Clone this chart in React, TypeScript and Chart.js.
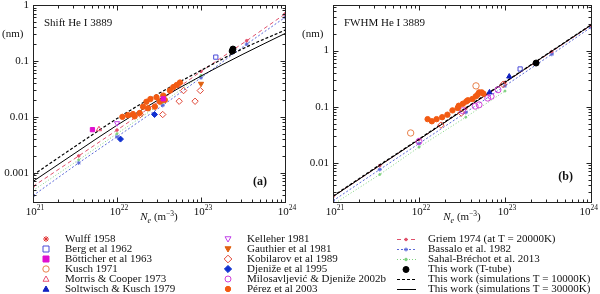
import React, { useEffect, useRef } from 'react';
import { Chart, registerables } from 'chart.js';
Chart.register(...registerables);

// ---------- axes ----------
const X_MIN = 1e21;
const X_MAX = 1e24;
const X_TICK_EXPONENTS = ['21', '22', '23', '24'];
const SHIFT_Y_MIN = 3e-4;
const SHIFT_Y_MAX = 1;
const SHIFT_Y_TICKS = [0.001, 0.01, 0.1, 1];
const SHIFT_Y_LABELS = ['0.001', '0.01', '0.1', '1'];
const FWHM_Y_MIN = 0.002;
const FWHM_Y_MAX = 6.5;
const FWHM_Y_TICKS = [0.01, 0.1, 1];
const FWHM_Y_LABELS = ['0.01', '0.1', '1'];

// ---------- theory curves ----------
const THEORY_N = [1e21, 3.5e21, 1e22, 3.5e22, 1e23, 3.5e23, 1e24];
const griemShift = [0.00057, 0.002, 0.0058, 0.021, 0.065, 0.23, 0.69];
const bassaloShift = [0.00039, 0.0015, 0.0044, 0.016, 0.05, 0.2, 0.6];
const griemFwhm = [0.0025, 0.0089, 0.026, 0.093, 0.27, 0.96, 2.8];
const bassaloFwhm = [0.0021, 0.0076, 0.022, 0.079, 0.235, 0.86, 2.6];
const SAHAL_N = [1e21, 3.5e21, 1e22, 3.5e22, 1e23];
const sahalShift = [0.00048, 0.0017, 0.005, 0.018, 0.055];
const sahalFwhm = [0.0018, 0.0062, 0.019, 0.065, 0.19];
const SIM_N = [1e21, 3.16e21, 1e22, 3.16e22, 1e23, 3.16e23, 1e24];
const sim10kShift = [0.00091, 0.00295, 0.0093, 0.0263, 0.0676, 0.166, 0.355];
const sim30kShift = [0.0007, 0.00224, 0.00708, 0.0204, 0.0537, 0.132, 0.309];
const sim10kFwhm = [0.00255, 0.0083, 0.0265, 0.086, 0.276, 0.89, 2.87];
const sim30kFwhm = [0.0025, 0.0081, 0.026, 0.084, 0.272, 0.88, 2.85];

// ---------- measurements: shift (panel a) ----------
const bergShiftN = [1.5e23];
const bergShift = [0.117];
const botticherShiftN = [5.1e21, 3.55e22];
const botticherShift = [0.0059, 0.021];
const morrisShiftN = [6.1e21];
const morrisShift = [0.006];
const kelleherShiftN = [1.0e22];
const kelleherShift = [0.0077];
const gauthierShiftN = [1e23];
const gauthierShift = [0.039];
const kobilarovShiftN = [1.9e22, 3.5e22, 5.5e22, 8.5e22, 6.2e22, 9.8e22];
const kobilarovShift = [0.011, 0.011, 0.019, 0.019, 0.0295, 0.0295];
const djenizeShiftN = [1.1e22, 2.8e22];
const djenizeShift = [0.004, 0.011];
const perezShiftN = [1.16e22, 1.35e22, 1.55e22, 1.62e22, 1.86e22, 2.04e22, 2.24e22, 2.5e22, 2.95e22, 3.55e22, 4.27e22, 4.68e22, 5.13e22, 5.62e22, 2.34e22, 2.82e22, 3.24e22, 3.7e22];
const perezShift = [0.01, 0.0107, 0.0112, 0.0102, 0.0117, 0.0152, 0.0186, 0.0208, 0.0224, 0.024, 0.0295, 0.034, 0.037, 0.041, 0.0142, 0.0152, 0.0187, 0.02];
const ttubeShiftN = [2.35e23, 2.4e23];
const ttubeShift = [0.15, 0.163];

// ---------- measurements: FWHM (panel b) ----------
const bergFwhmN = [1.5e23];
const bergFwhm = [0.47];
const kuschFwhmN = [8e21, 4.6e22];
const kuschFwhm = [0.034, 0.235];
const soltwischFwhmN = [6.6e22, 1.12e23];
const soltwischFwhm = [0.18, 0.345];
const kobilarovFwhmN = [1.8e22, 3.1e22, 9.5e22];
const kobilarovFwhm = [0.047, 0.077, 0.25];
const miloFwhmN = [1e22, 3.2e22, 4.5e22, 5e22, 6.3e22, 6.9e22, 8.3e22];
const miloFwhm = [0.024, 0.085, 0.102, 0.108, 0.142, 0.153, 0.2];
const perezFwhmN = [1.26e22, 1.41e22, 1.6e22, 1.86e22, 2.14e22, 2.45e22, 2.82e22, 2.9e22, 3.24e22, 3.55e22, 3.7e22, 4.17e22, 4.57e22, 4.8e22, 5.0e22, 5.37e22, 5.62e22];
const perezFwhm = [0.06, 0.055, 0.06, 0.065, 0.072, 0.086, 0.095, 0.104, 0.113, 0.124, 0.13, 0.137, 0.153, 0.163, 0.18, 0.18, 0.17];
const ttubeFwhmN = [2.3e23];
const ttubeFwhm = [0.6];

// ---------- legend labels ----------
const LEGEND_COL1 = ['Wulff 1958', 'Berg et al 1962', 'Bötticher et al 1963', 'Kusch 1971', 'Morris & Cooper 1973', 'Soltwisch & Kusch 1979'];
const LEGEND_COL2 = ['Kelleher 1981', 'Gauthier et al 1981', 'Kobilarov et al 1989', 'Djeniže et al 1995', 'Milosavljević & Djeniže 2002b', 'Pérez et al 2003'];
const LEGEND_COL3 = ['Griem 1974 (at T = 20000K)', 'Bassalo et al. 1982', 'Sahal-Bréchot et al. 2013', 'This work (T-tube)', 'This work (simulations T = 10000K)', 'This work (simulations T = 30000K)'];

// ---------- styles ----------
type MStyle = { style: string; color: string; filled: boolean; r: number };
const ST: Record<string, MStyle> = {
  wulff: { style: 'star', color: '#e03030', filled: false, r: 3 },
  berg: { style: 'rect', color: '#4a4ad8', filled: false, r: 3 },
  botticher: { style: 'rect', color: '#e010d0', filled: true, r: 3 },
  kusch: { style: 'circle', color: '#e8804a', filled: false, r: 3.2 },
  morris: { style: 'triangle', color: '#e85070', filled: false, r: 3 },
  soltwisch: { style: 'triangle', color: '#1020c0', filled: true, r: 3 },
  kelleher: { style: 'tridown', color: '#c040e8', filled: false, r: 3 },
  gauthier: { style: 'tridown', color: '#e06010', filled: true, r: 3 },
  kobilarov: { style: 'diamond', color: '#e04838', filled: false, r: 3.2 },
  djenize: { style: 'diamond', color: '#1030d0', filled: true, r: 3 },
  milo: { style: 'circle', color: '#d040d8', filled: false, r: 3 },
  perez: { style: 'circle', color: '#f25a12', filled: true, r: 2.7 },
  ttube: { style: 'circle', color: '#000000', filled: true, r: 3 },
};
const COL1_KEYS = ['wulff', 'berg', 'botticher', 'kusch', 'morris', 'soltwisch'];
const COL2_KEYS = ['kelleher', 'gauthier', 'kobilarov', 'djenize', 'milo', 'perez'];

const GRIEM_C = '#e0506a';
const BASSALO_C = '#5a68d8';
const SAHAL_C = '#7cd07c';
const FONT = '"Liberation Serif", "DejaVu Serif", serif';

const zip = (xs: number[], ys: number[]) => xs.map((x, i) => ({ x, y: ys[i] }));

function scatterDs(key: string, xs: number[], ys: number[]) {
  const s = ST[key];
  const ps = s.style === 'diamond' ? 'rectRot' : s.style === 'tridown' ? 'triangle' : s.style;
  return {
    label: key,
    data: zip(xs, ys),
    showLine: false,
    pointStyle: ps,
    rotation: s.style === 'tridown' ? 180 : 0,
    pointRadius: s.r,
    pointBorderWidth: 1,
    pointBorderColor: s.color,
    pointBackgroundColor: s.filled ? s.color : 'rgba(255,255,255,0)',
  };
}

function lineDs(label: string, xs: number[], ys: number[], color: string, dash: number[], ptR: number, ptStyle: string, width = 1, smooth = false) {
  return {
    label,
    data: zip(xs, ys),
    showLine: true,
    borderColor: color,
    borderWidth: width,
    borderDash: dash,
    pointRadius: ptR,
    pointStyle: ptStyle,
    pointBorderColor: color,
    pointBackgroundColor: color,
    pointBorderWidth: 1,
    fill: false,
    tension: 0,
    cubicInterpolationMode: smooth ? 'monotone' : 'default',
  };
}

function drawMarker(ctx: CanvasRenderingContext2D, s: MStyle, x: number, y: number) {
  const r = s.r;
  ctx.save();
  ctx.strokeStyle = s.color;
  ctx.fillStyle = s.color;
  ctx.lineWidth = 1;
  ctx.setLineDash([]);
  ctx.beginPath();
  if (s.style === 'circle') ctx.arc(x, y, r, 0, Math.PI * 2);
  else if (s.style === 'rect') ctx.rect(x - r, y - r, 2 * r, 2 * r);
  else if (s.style === 'triangle') { ctx.moveTo(x, y - r); ctx.lineTo(x + r, y + r * 0.75); ctx.lineTo(x - r, y + r * 0.75); ctx.closePath(); }
  else if (s.style === 'tridown') { ctx.moveTo(x, y + r); ctx.lineTo(x + r, y - r * 0.75); ctx.lineTo(x - r, y - r * 0.75); ctx.closePath(); }
  else if (s.style === 'diamond') { ctx.moveTo(x, y - r * 1.2); ctx.lineTo(x + r * 1.2, y); ctx.lineTo(x, y + r * 1.2); ctx.lineTo(x - r * 1.2, y); ctx.closePath(); }
  else if (s.style === 'star') {
    for (let k = 0; k < 4; k++) {
      const a = (k * Math.PI) / 4;
      ctx.moveTo(x - Math.cos(a) * r, y - Math.sin(a) * r);
      ctx.lineTo(x + Math.cos(a) * r, y + Math.sin(a) * r);
    }
  }
  if (s.filled && s.style !== 'star') ctx.fill();
  ctx.stroke();
  ctx.restore();
}

function drawPow(ctx: CanvasRenderingContext2D, cx: number, y: number, exp: string) {
  ctx.font = `11px ${FONT}`;
  const w1 = ctx.measureText('10').width;
  ctx.font = `7.5px ${FONT}`;
  const w2 = ctx.measureText(exp).width;
  let x0 = cx - (w1 + w2) / 2;
  if (x0 + w1 + w2 > 598) x0 = 598 - w1 - w2;
  ctx.textAlign = 'left';
  ctx.textBaseline = 'alphabetic';
  ctx.font = `11px ${FONT}`;
  ctx.fillText('10', x0, y);
  ctx.font = `7.5px ${FONT}`;
  ctx.fillText(exp, x0 + w1, y - 5);
}

function drawAxisTitle(ctx: CanvasRenderingContext2D, cx: number, y: number) {
  const parts = [
    { t: 'N', f: `italic 11px ${FONT}`, dy: 0 },
    { t: 'e', f: `italic 8px ${FONT}`, dy: 2.5 },
    { t: ' (m', f: `11px ${FONT}`, dy: 0 },
    { t: '−3', f: `7.5px ${FONT}`, dy: -4.5 },
    { t: ')', f: `11px ${FONT}`, dy: 0 },
  ];
  let total = 0;
  for (const p of parts) { ctx.font = p.f; total += ctx.measureText(p.t).width; }
  let x = cx - total / 2;
  ctx.textAlign = 'left';
  ctx.textBaseline = 'alphabetic';
  for (const p of parts) {
    ctx.font = p.f;
    ctx.fillText(p.t, x, y + p.dy);
    x += ctx.measureText(p.t).width;
  }
}

const decoPlugin = {
  id: 'deco',
  afterDraw(chart: any, _args: any, opts: any) {
    const ctx: CanvasRenderingContext2D = chart.ctx;
    const a = chart.chartArea;
    const xs = chart.scales.x;
    const ys = chart.scales.y;
    ctx.save();
    ctx.strokeStyle = '#222';
    ctx.fillStyle = '#111';
    ctx.lineWidth = 1;
    ctx.setLineDash([]);
    const L = Math.round(a.left) + 0.5, R = Math.round(a.right) + 0.5;
    const T = Math.round(a.top) + 0.5, B = Math.round(a.bottom) + 0.5;
    ctx.strokeRect(L, T, R - L, B - T);
    ctx.beginPath();
    for (let d = 21; d <= 24; d++) {
      for (let m = 1; m <= 9; m++) {
        const v = m * Math.pow(10, d);
        if (v < xs.min * 0.999 || v > xs.max * 1.001) continue;
        const px = Math.round(xs.getPixelForValue(v)) + 0.5;
        const len = m === 1 ? 5 : 3;
        ctx.moveTo(px, B); ctx.lineTo(px, B - len);
        ctx.moveTo(px, T); ctx.lineTo(px, T + len);
      }
    }
    const d0 = Math.floor(Math.log10(ys.min));
    const d1 = Math.ceil(Math.log10(ys.max));
    for (let d = d0; d <= d1; d++) {
      for (let m = 1; m <= 9; m++) {
        const v = m * Math.pow(10, d);
        if (v < ys.min * 0.999 || v > ys.max * 1.001) continue;
        const py = Math.round(ys.getPixelForValue(v)) + 0.5;
        const len = m === 1 ? 5 : 3;
        ctx.moveTo(L, py); ctx.lineTo(L + len, py);
        ctx.moveTo(R, py); ctx.lineTo(R - len, py);
      }
    }
    ctx.stroke();

    X_TICK_EXPONENTS.forEach((e) => {
      const px = xs.getPixelForValue(Math.pow(10, Number(e)));
      drawPow(ctx, px + 2, a.bottom + 13, e);
    });
    ctx.font = `11px ${FONT}`;
    ctx.textAlign = 'right';
    ctx.textBaseline = 'middle';
    opts.yTicks.forEach((v: number, i: number) => {
      ctx.fillText(opts.yLabels[i], a.left - 4, ys.getPixelForValue(v));
    });
    ctx.textAlign = 'left';
    ctx.fillText('(nm)', a.left - 31, 34);
    ctx.fillText(opts.title, a.left + 11, a.top + 18);
    ctx.font = `bold 12px ${FONT}`;
    ctx.textAlign = 'right';
    ctx.fillText(opts.tag, a.right - 18, a.bottom - opts.tagUp);
    drawAxisTitle(ctx, (a.left + a.right) / 2, a.bottom + 18);

    if (opts.legend) {
      const y0 = 239, dy = 10;
      ctx.font = `11px ${FONT}`;
      ctx.textAlign = 'left';
      ctx.textBaseline = 'middle';
      ctx.fillStyle = '#111';
      LEGEND_COL1.forEach((t, i) => {
        drawMarker(ctx, ST[COL1_KEYS[i]], 46, y0 + i * dy);
        ctx.fillStyle = '#111';
        ctx.fillText(t, 65, y0 + i * dy + 0.5);
      });
      LEGEND_COL2.forEach((t, i) => {
        drawMarker(ctx, ST[COL2_KEYS[i]], 228, y0 + i * dy);
        ctx.fillStyle = '#111';
        ctx.fillText(t, 247, y0 + i * dy + 0.5);
      });
      const lineSpecs = [
        { c: GRIEM_C, dash: [4, 3], mark: 'dot' },
        { c: BASSALO_C, dash: [2, 2], mark: 'star' },
        { c: SAHAL_C, dash: [1, 2], mark: 'dot' },
        { c: '#000', dash: null, mark: 'ttube' },
        { c: '#000', dash: [3, 2], mark: null },
        { c: '#000', dash: [], mark: null },
      ];
      LEGEND_COL3.forEach((t, i) => {
        const y = Math.round(y0 + i * dy) + 0.5;
        const sp = lineSpecs[i];
        ctx.save();
        if (sp.dash) {
          ctx.strokeStyle = sp.c;
          ctx.lineWidth = 1;
          ctx.setLineDash(sp.dash);
          ctx.beginPath();
          ctx.moveTo(397, y); ctx.lineTo(416, y);
          ctx.stroke();
        }
        ctx.restore();
        if (sp.mark === 'dot') drawMarker(ctx, { style: 'circle', color: sp.c, filled: true, r: 1.3 }, 406, y);
        if (sp.mark === 'star') drawMarker(ctx, { style: 'star', color: sp.c, filled: false, r: 2 }, 406, y);
        if (sp.mark === 'ttube') drawMarker(ctx, ST.ttube, 406, y);
        ctx.fillStyle = '#111';
        ctx.font = `11px ${FONT}`;
        ctx.textAlign = 'left';
        ctx.textBaseline = 'middle';
        ctx.fillText(t, 428, y);
      });
    }
    ctx.restore();
  },
};

function shiftConfig(): any {
  return {
    type: 'scatter',
    data: {
      datasets: [
        scatterDs('ttube', ttubeShiftN, ttubeShift),
        scatterDs('botticher', botticherShiftN, botticherShift),
        scatterDs('perez', perezShiftN, perezShift),
        scatterDs('berg', bergShiftN, bergShift),
        scatterDs('morris', morrisShiftN, morrisShift),
        scatterDs('kelleher', kelleherShiftN, kelleherShift),
        scatterDs('gauthier', gauthierShiftN, gauthierShift),
        scatterDs('kobilarov', kobilarovShiftN, kobilarovShift),
        scatterDs('djenize', djenizeShiftN, djenizeShift),
        lineDs('sim10k', SIM_N, sim10kShift, '#000', [3, 2], 0, 'circle', 1.2, true),
        lineDs('sim30k', SIM_N, sim30kShift, '#000', [], 0, 'circle', 1, true),
        lineDs('griem', THEORY_N, griemShift, GRIEM_C, [4, 3], 1.3, 'circle'),
        lineDs('sahal', SAHAL_N, sahalShift, SAHAL_C, [1, 2], 1, 'circle'),
        lineDs('bassalo', THEORY_N, bassaloShift, BASSALO_C, [2, 2], 2, 'star'),
      ],
    },
    options: {
      animation: false,
      responsive: false,
      events: [],
      layout: { padding: { left: 33, right: 315, top: 5, bottom: 92 } },
      scales: {
        x: { type: 'logarithmic', min: X_MIN, max: X_MAX, display: false },
        y: { type: 'logarithmic', min: SHIFT_Y_MIN, max: SHIFT_Y_MAX, display: false },
      },
      plugins: {
        legend: { display: false },
        tooltip: { enabled: false },
        deco: { yTicks: SHIFT_Y_TICKS, yLabels: SHIFT_Y_LABELS, title: 'Shift He I 3889', tag: '(a)', tagUp: 20, legend: true },
      },
    },
    plugins: [decoPlugin],
  };
}

function fwhmConfig(): any {
  return {
    type: 'scatter',
    data: {
      datasets: [
        scatterDs('ttube', ttubeFwhmN, ttubeFwhm),
        scatterDs('berg', bergFwhmN, bergFwhm),
        scatterDs('soltwisch', soltwischFwhmN, soltwischFwhm),
        scatterDs('kusch', kuschFwhmN, kuschFwhm),
        scatterDs('perez', perezFwhmN, perezFwhm),
        scatterDs('milo', miloFwhmN, miloFwhm),
        scatterDs('kobilarov', kobilarovFwhmN, kobilarovFwhm),
        lineDs('sim10k', SIM_N, sim10kFwhm, '#000', [3, 2], 0, 'circle', 1.2),
        lineDs('sim30k', SIM_N, sim30kFwhm, '#000', [], 0, 'circle', 1),
        lineDs('griem', THEORY_N, griemFwhm, GRIEM_C, [4, 3], 1.3, 'circle'),
        lineDs('sahal', SAHAL_N, sahalFwhm, SAHAL_C, [1, 2], 1, 'circle'),
        lineDs('bassalo', THEORY_N, bassaloFwhm, BASSALO_C, [2, 2], 2, 'star'),
      ],
    },
    options: {
      animation: false,
      responsive: false,
      events: [],
      layout: { padding: { left: 333, right: 9, top: 5, bottom: 92 } },
      scales: {
        x: { type: 'logarithmic', min: X_MIN, max: X_MAX, display: false },
        y: { type: 'logarithmic', min: FWHM_Y_MIN, max: FWHM_Y_MAX, display: false },
      },
      plugins: {
        legend: { display: false },
        tooltip: { enabled: false },
        deco: { yTicks: FWHM_Y_TICKS, yLabels: FWHM_Y_LABELS, title: 'FWHM He I 3889', tag: '(b)', tagUp: 25, legend: false },
      },
    },
    plugins: [decoPlugin],
  };
}

export default function App() {
  const refA = useRef<HTMLCanvasElement | null>(null);
  const refB = useRef<HTMLCanvasElement | null>(null);
  useEffect(() => {
    const ca = new Chart(refA.current as HTMLCanvasElement, shiftConfig());
    const cb = new Chart(refB.current as HTMLCanvasElement, fwhmConfig());
    return () => { ca.destroy(); cb.destroy(); };
  }, []);
  const cs: React.CSSProperties = { position: 'absolute', left: 0, top: 0, width: 600, height: 294, display: 'block' };
  return (
    <div style={{ position: 'fixed', left: 0, top: 0, width: 600, height: 294, background: '#fff', overflow: 'hidden' }}>
      <canvas ref={refA} width={600} height={294} style={cs} />
      <canvas ref={refB} width={600} height={294} style={cs} />
    </div>
  );
}
